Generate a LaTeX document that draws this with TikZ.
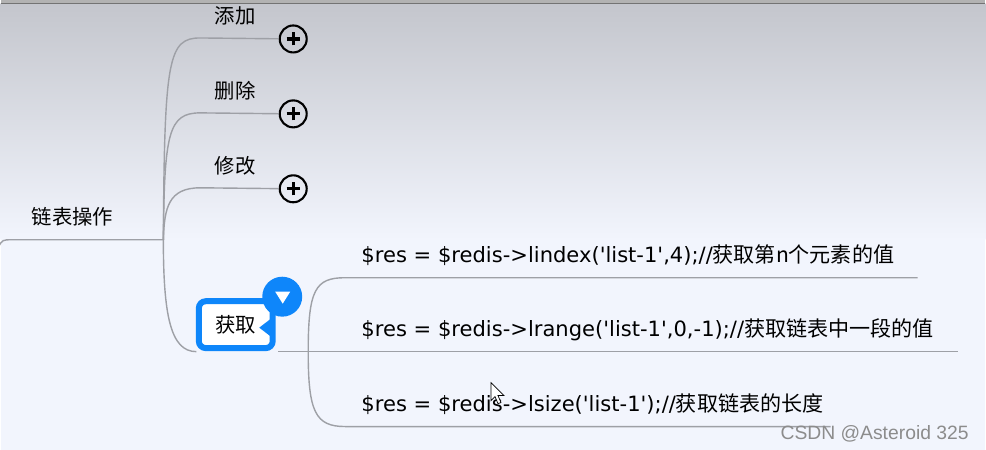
\documentclass[tikz,border=0pt]{standalone}
\usepackage{fontspec}
\newfontfamily\zhfont{Noto Sans CJK SC}
\newfontfamily\codefont{DejaVu Sans}[Ligatures=TeXOff]
\newfontfamily\markfont{Liberation Sans}
\newcommand\zhtxt[1]{{\zhfont #1}}
\usetikzlibrary{calc,positioning}
\definecolor{linegray}{RGB}{158,160,166}
\definecolor{selblue}{RGB}{14,134,250}
\definecolor{bgtop}{RGB}{196,198,205}
\definecolor{bgbot}{RGB}{242,245,253}

\begin{document}
\begin{tikzpicture}[x=0.02cm,y=-0.02cm,
    branch/.style={draw=linegray,line width=0.8pt},
    topic/.style={inner sep=0pt,font=\zhfont\fontsize{11.6}{13}\selectfont},
    code/.style={inner sep=0pt,anchor=west,font=\codefont\fontsize{12}{14}\selectfont},
    plusbtn/.style={circle,draw=black,line width=1.2pt,minimum size=0.54cm,inner sep=0pt,
        path picture={\draw[line width=1.8pt]
            ([xshift=-0.13cm]path picture bounding box.center) -- ([xshift=0.13cm]path picture bounding box.center)
            ([yshift=-0.13cm]path picture bounding box.center) -- ([yshift=0.13cm]path picture bounding box.center);}},
    wmark/.style={inner sep=0pt,text=black!45,font=\markfont\fontsize{11}{13}\selectfont}]

    % Background of the screen
    \fill[bgbot] (0,0) rectangle (986,450);
    \shade[top color=bgtop,bottom color=bgbot] (0,4) rectangle (986,240);
    \fill[black!30] (0,0) rectangle (986,4);
    \draw[black!55,line width=0.6pt] (0,3.5) -- (986,3.5);
    \useasboundingbox (0,0) rectangle (986,450);

    % Define anchor points of the tree
    \coordinate (hub) at (163,240);
    \coordinate (sub) at (308,352);
    \coordinate (lindex-end) at (918,278);
    \coordinate (lrange-end) at (958,352);
    \coordinate (lsize-end) at (831,427);

    % Root topic
    \node[topic] (root) at (72,217) {链表操作};
    \draw[branch] (-2,247) .. controls (2,240) .. (12,240) -- (hub);

    % Collapsed topics
    \foreach \name/\txt/\yy in {add/添加/38,del/删除/113,mod/修改/188} {
        \node[topic] (\name) at (235,\yy-22) {\txt};
        \node[plusbtn] (\name-btn) at (293,\yy+1) {};
        \draw[branch] (hub) .. controls (164,\yy+20) and (168,\yy) .. (200,\yy) -- (\name-btn);
    }

    % Selected topic
    \draw[branch] (hub) .. controls (163,315) and (170,352) .. (196,352);
    \draw[branch] (278,352) -- (sub) -- (lrange-end);
    \node[topic,draw=selblue,fill=white,line width=3.4pt,rounded corners=4pt,
        minimum width=1.48cm,minimum height=0.94cm] (get) at (235.5,325) {获取};
    \fill[selblue] (272,318) -- (259,328) -- (272,338) -- cycle;
    \node[circle,fill=selblue,minimum size=0.8cm,inner sep=0pt] (get-btn) at (282,297) {};
    \fill[white] (275,292) -- (290,292) -- (282.5,304) -- cycle;

    % Sub topics of the selected one
    \draw[branch] (sub) .. controls (308,290) and (315,278) .. (345,278) -- (lindex-end);
    \draw[branch] (sub) .. controls (308,412) and (315,427) .. (345,427) -- (lsize-end);
    \node[code] (lindex) at (361,255) {\$res = \$redis->lindex('list-1',4);//\zhtxt{获取第n个元素的值}};
    \node[code] (lrange) at (361,330) {\$res = \$redis->lrange('list-1',0,-1);//\zhtxt{获取链表中一段的值}};
    \node[code] (lsize) at (361,405) {\$res = \$redis->lsize('list-1');//\zhtxt{获取链表的长度}};

    % Mouse pointer
    \draw[fill=white,line width=0.4pt] (491,383) -- (491,401) -- (495,397) -- (498,404)
        -- (501,403) -- (498,396) -- (504,396) -- cycle;

    % Watermark
    \node[wmark] (credit) at (875,434) {CSDN @Asteroid 325};
\end{tikzpicture}
\end{document}
